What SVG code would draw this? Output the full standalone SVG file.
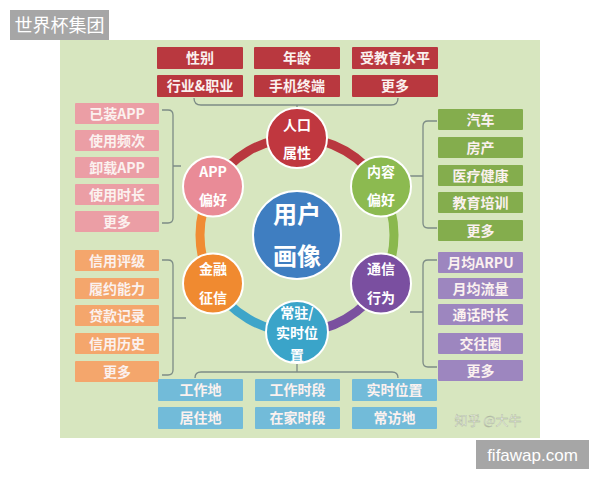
<svg xmlns="http://www.w3.org/2000/svg" width="600" height="480" viewBox="0 0 600 480">
<style>
text{font-family:"Noto Sans CJK SC","Liberation Sans",sans-serif;font-weight:bold;text-anchor:middle}
.bt{font-size:14px;fill:#fbf1ef}
.red{fill:#b9383f}
.pink{fill:#eb9ea5}
.green{fill:#84ad4d}
.orange{fill:#f4a66c}
.purple{fill:#9d86bf}
.blue{fill:#72bbd9}
.br{fill:none;stroke:#7d8c86;stroke-width:1.3}
.ring{fill:none;stroke-width:9}
.ct{font-size:14px;fill:#ffffff}
.cc{stroke:#ffffff;stroke-width:2}
</style>
<rect x="0" y="0" width="600" height="480" fill="#ffffff"/>
<rect x="60" y="40" width="480" height="398" fill="#d7e6bf"/>
<g id="wm1"><rect x="10" y="10" width="99" height="30" fill="#a6a6a6"/><text x="59.500" y="32" style="font-size:18px;font-weight:normal;fill:#ffffff">世界杯集团</text></g>
<g id="wm2"><rect x="476" y="440" width="113" height="29" fill="#a6a6a6"/><text x="532.500" y="461" style="font-family:'Liberation Sans',sans-serif;font-size:17px;font-weight:normal;fill:#ffffff">fifawap.com</text></g>
<g id="connectors">
<path class="br" d="M194,98 Q194,105 201,105 L391,105 Q398,105 398,98 M297,105 L297,108"/>
<path class="br" d="M162,110 L168,110 Q173,110 173,115 L173,218 Q173,223 168,223 L162,223 M173,166 L181,166"/>
<path class="br" d="M162,260 L168,260 Q173,260 173,265 L173,370 Q173,375 168,375 L162,375 M173,318 L186,318"/>
<path class="br" d="M437,121 L428,121 Q423,121 423,126 L423,223 Q423,228 428,228 L437,228 M423,176 L410,176"/>
<path class="br" d="M437,260 L428,260 Q423,260 423,265 L423,362 Q423,367 428,367 L437,367 M423,312 L410,312"/>
<path class="br" d="M195,378 Q195,372 201,372 L392,372 Q398,372 398,378 M297,372 L297,364"/>
<path class="ring" stroke="#b9383f" d="M297,138 A97,97 0 0 1 381,186.500"/>
<path class="ring" stroke="#8ab84e" d="M381,186.500 A97,97 0 0 1 381,283.500"/>
<path class="ring" stroke="#7a509f" d="M381,283.500 A97,97 0 0 1 297,332"/>
<path class="ring" stroke="#3ea5c9" d="M297,332 A97,97 0 0 1 213,283.500"/>
<path class="ring" stroke="#f08c34" d="M213,283.500 A97,97 0 0 1 213,186.500"/>
<path class="ring" stroke="#b9383f" d="M213,186.500 A97,97 0 0 1 297,138"/>
</g>
<g id="top-boxes">
<rect class="red" x="157" y="47" width="86" height="22" rx="1"/><text class="bt" x="200" y="63">性别</text>
<rect class="red" x="254" y="47" width="86" height="22" rx="1"/><text class="bt" x="297" y="63">年龄</text>
<rect class="red" x="352" y="47" width="86" height="22" rx="1"/><text class="bt" x="395" y="63">受教育水平</text>
<rect class="red" x="157" y="75" width="86" height="22" rx="1"/><text class="bt" x="200" y="91">行业&amp;职业</text>
<rect class="red" x="254" y="75" width="86" height="22" rx="1"/><text class="bt" x="297" y="91">手机终端</text>
<rect class="red" x="352" y="75" width="86" height="22" rx="1"/><text class="bt" x="395" y="91">更多</text>
</g>
<g id="app-boxes">
<rect class="pink" x="75" y="103" width="84" height="21" rx="1"/><text class="bt" x="117" y="118.500">已装APP</text>
<rect class="pink" x="75" y="130" width="84" height="21" rx="1"/><text class="bt" x="117" y="145.500">使用频次</text>
<rect class="pink" x="75" y="157" width="84" height="21" rx="1"/><text class="bt" x="117" y="172.500">卸载APP</text>
<rect class="pink" x="75" y="184" width="84" height="21" rx="1"/><text class="bt" x="117" y="199.500">使用时长</text>
<rect class="pink" x="75" y="211" width="84" height="21" rx="1"/><text class="bt" x="117" y="226.500">更多</text>
</g>
<g id="finance-boxes">
<rect class="orange" x="75" y="250" width="84" height="21" rx="1"/><text class="bt" x="117" y="265.500">信用评级</text>
<rect class="orange" x="75" y="278" width="84" height="21" rx="1"/><text class="bt" x="117" y="293.500">履约能力</text>
<rect class="orange" x="75" y="305" width="84" height="21" rx="1"/><text class="bt" x="117" y="320.500">贷款记录</text>
<rect class="orange" x="75" y="333" width="84" height="21" rx="1"/><text class="bt" x="117" y="348.500">信用历史</text>
<rect class="orange" x="75" y="361" width="84" height="21" rx="1"/><text class="bt" x="117" y="376.500">更多</text>
</g>
<g id="content-boxes">
<rect class="green" x="438" y="109" width="85" height="21" rx="1"/><text class="bt" x="480.500" y="124.500">汽车</text>
<rect class="green" x="438" y="137" width="85" height="21" rx="1"/><text class="bt" x="480.500" y="152.500">房产</text>
<rect class="green" x="438" y="165" width="85" height="21" rx="1"/><text class="bt" x="480.500" y="180.500">医疗健康</text>
<rect class="green" x="438" y="192" width="85" height="21" rx="1"/><text class="bt" x="480.500" y="207.500">教育培训</text>
<rect class="green" x="438" y="220" width="85" height="21" rx="1"/><text class="bt" x="480.500" y="235.500">更多</text>
</g>
<g id="comm-boxes">
<rect class="purple" x="438" y="252" width="85" height="21" rx="1"/><text class="bt" x="480.500" y="267.500">月均ARPU</text>
<rect class="purple" x="438" y="278" width="85" height="21" rx="1"/><text class="bt" x="480.500" y="293.500">月均流量</text>
<rect class="purple" x="438" y="304" width="85" height="21" rx="1"/><text class="bt" x="480.500" y="319.500">通话时长</text>
<rect class="purple" x="438" y="333" width="85" height="21" rx="1"/><text class="bt" x="480.500" y="348.500">交往圈</text>
<rect class="purple" x="438" y="360" width="85" height="21" rx="1"/><text class="bt" x="480.500" y="375.500">更多</text>
</g>
<g id="location-boxes">
<rect class="blue" x="158" y="379" width="85" height="22" rx="1"/><text class="bt" x="200.500" y="395">工作地</text>
<rect class="blue" x="255" y="379" width="85" height="22" rx="1"/><text class="bt" x="297.500" y="395">工作时段</text>
<rect class="blue" x="352" y="379" width="85" height="22" rx="1"/><text class="bt" x="394.500" y="395">实时位置</text>
<rect class="blue" x="158" y="407" width="85" height="22" rx="1"/><text class="bt" x="200.500" y="423">居住地</text>
<rect class="blue" x="255" y="407" width="85" height="22" rx="1"/><text class="bt" x="297.500" y="423">在家时段</text>
<rect class="blue" x="352" y="407" width="85" height="22" rx="1"/><text class="bt" x="394.500" y="423">常访地</text>
</g>
<g id="center"><circle class="cc" cx="297" cy="235" r="44" fill="#3f7ec1"/><text x="297" y="223" style="font-size:24px;fill:#ffffff">用户</text><text x="297" y="265" style="font-size:24px;fill:#ffffff">画像</text></g>
<g id="c-renkou"><circle class="cc" cx="297" cy="138" r="30" fill="#c0373f"/><text class="ct" x="297" y="130">人口</text><text class="ct" x="297" y="158">属性</text></g>
<g id="c-neirong"><circle class="cc" cx="381" cy="186.500" r="30" fill="#8cba50"/><text class="ct" x="381" y="177">内容</text><text class="ct" x="381" y="205">偏好</text></g>
<g id="c-tongxin"><circle class="cc" cx="381" cy="283.500" r="30" fill="#7a4fa0"/><text class="ct" x="381" y="274">通信</text><text class="ct" x="381" y="303">行为</text></g>
<g id="c-changzhu"><circle class="cc" cx="297" cy="332" r="31" fill="#3aa4c9"/><text class="ct" x="297" y="318">常驻/</text><text class="ct" x="297" y="338">实时位</text><text class="ct" x="297" y="360">置</text></g>
<g id="c-jinrong"><circle class="cc" cx="213" cy="283.500" r="30" fill="#f08a30"/><text class="ct" x="213" y="274">金融</text><text class="ct" x="213" y="303">征信</text></g>
<g id="c-app"><circle class="cc" cx="213" cy="186.500" r="30" fill="#e98b97"/><text class="ct" x="213" y="177">APP</text><text class="ct" x="213" y="205">偏好</text></g>
<text x="488" y="425" style="font-size:13px;font-weight:normal;fill:#f2f5ea;stroke:#a8b29a;stroke-width:0.4">知乎 @大牛</text>
</svg>
